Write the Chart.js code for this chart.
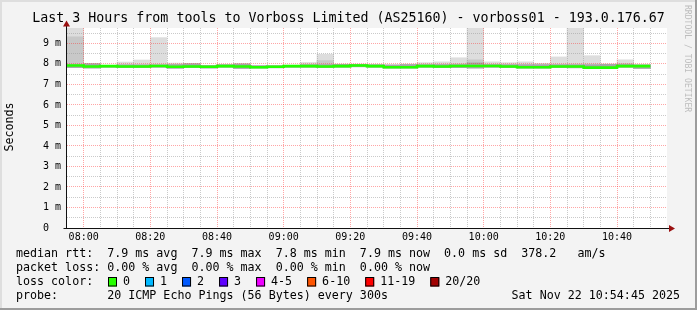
<!DOCTYPE html>
<html><head><meta charset="utf-8">
<script src="https://cdn.jsdelivr.net/npm/chart.js@4"></script>
<style>html,body{margin:0;padding:0;background:#f3f3f3;}canvas{display:block;}</style>
</head><body>
<canvas id="c" width="697" height="310"></canvas>
<script>
// ---- data ----
const titleText = 'Last 3 Hours from tools to Vorboss Limited (AS25160) - vorboss01 - 193.0.176.67';
const yAxisTitle = 'Seconds';
const watermark = 'RRDTOOL / TOBI OETIKER';
const axisStart = '07:55';
const axisEnd = '10:55';
// bar slot start times (5-minute steps)
const times = ['07:55','08:00','08:05','08:10','08:15','08:20','08:25','08:30','08:35','08:40','08:45','08:50',
               '08:55','09:00','09:05','09:10','09:15','09:20','09:25','09:30','09:35','09:40','09:45','09:50',
               '09:55','10:00','10:05','10:10','10:15','10:20','10:25','10:30','10:35','10:40','10:45','10:50'];
const xTickLabels = ['08:00','08:20','08:40','09:00','09:20','09:40','10:00','10:20','10:40'];
const yTickValues = [0,1,2,3,4,5,6,7,8,9];
const yTickLabels = ['0  ','1 m','2 m','3 m','4 m','5 m','6 m','7 m','8 m','9 m'];
// values in ms
const median   = [7.92,7.87,7.89,7.87,7.87,7.90,7.86,7.87,7.86,7.89,7.87,7.84,7.86,7.89,7.89,7.87,7.89,7.92,7.89,7.84,7.84,7.89,7.87,7.90,7.90,7.90,7.87,7.84,7.84,7.87,7.87,7.82,7.82,7.89,7.89];
const smokeMax = [10.2,8.02,7.93,8.09,8.19,9.28,8.04,8.01,7.93,7.98,8.00,7.92,7.92,7.94,8.07,8.47,7.99,7.99,7.96,7.95,7.99,8.06,8.10,8.30,10.2,8.10,8.06,8.10,8.03,8.34,10.2,8.40,8.00,8.20,7.97];
const smokeMid = [9.32,7.99,7.92,7.98,7.97,7.98,7.97,8.00,7.92,7.96,7.99,7.91,7.91,7.93,7.97,8.16,7.98,7.98,7.96,7.94,7.97,7.97,7.97,8.00,8.20,7.98,7.97,7.98,7.97,7.98,7.99,7.99,7.98,8.02,7.95];
const smokeCore= [7.96,8.01,7.92,7.95,7.95,7.95,7.97,8.01,7.92,7.96,8.00,7.91,7.91,7.92,7.96,7.97,7.98,7.98,7.96,7.95,7.97,7.96,7.97,7.97,8.05,7.97,7.96,7.96,7.96,7.96,7.96,7.96,7.98,7.98,7.95];
const smokeMin = [7.82,7.80,7.84,7.82,7.82,7.84,7.79,7.82,7.80,7.84,7.78,7.80,7.81,7.84,7.84,7.82,7.84,7.86,7.84,7.80,7.80,7.84,7.82,7.82,7.80,7.84,7.82,7.80,7.80,7.82,7.81,7.78,7.78,7.84,7.78];
const lossLabels = ['0','1','2','3','4-5','6-10','11-19','20/20'];
const lossColors = ['#26ff00','#00b8ff','#0059ff','#5e00ff','#ee00ff','#ff5500','#ff0000','#a10000'];
const legendRtt  = 'median rtt:  7.9 ms avg  7.9 ms max  7.8 ms min  7.9 ms now  0.0 ms sd  378.2   am/s';
const legendLoss = 'packet loss: 0.00 % avg  0.00 % max  0.00 % min  0.00 % now';
const legendColorLabel = 'loss color:';
const legendProbe = 'probe:       20 ICMP Echo Pings (56 Bytes) every 300s';
const legendDate = 'Sat Nov 22 10:54:45 2025';

// ---- helpers ----
const toMin = s => { const p = s.split(':').map(Number); return p[0]*60 + p[1]; };
const MONO = '"DejaVu Sans Mono", "Liberation Mono", monospace';

const medianPoints = median.map((v,i)=>({x: toMin(times[i]), y: v}));
medianPoints.push({x: toMin(times[median.length]), y: median[median.length-1]});

const rrdPlugin = {
  id: 'rrd',
  beforeDraw(chart) {
    const ctx = chart.ctx, W = chart.width, H = chart.height;
    ctx.save();
    ctx.fillStyle = '#f3f3f3';
    ctx.fillRect(0,0,W,H);
    ctx.fillStyle = '#dedede';
    ctx.fillRect(0,0,W,2); ctx.fillRect(0,0,2,H);
    ctx.fillStyle = '#9c9c9c';
    ctx.fillRect(0,H-2,W,2); ctx.fillRect(W-2,0,2,H);
    ctx.restore();
  },
  beforeDatasetsDraw(chart) {
    const a = chart.chartArea, ctx = chart.ctx;
    ctx.save();
    ctx.fillStyle = '#ffffff';
    ctx.fillRect(a.left, a.top, a.right-a.left, a.bottom-a.top);
    ctx.restore();
  },
  beforeDatasetDraw(chart, args) {
    if (args.meta.type !== 'line') return;
    const a = chart.chartArea, ctx = chart.ctx;
    const xs = chart.scales.x, ys = chart.scales.y;
    const majorX = xTickLabels.map(toMin);
    ctx.save();
    ctx.lineWidth = 1;
    ctx.setLineDash([1,1]);
    ctx.strokeStyle = 'rgba(150,150,150,0.5)';
    ctx.beginPath();
    times.slice(1).forEach(t => {
      const m = toMin(t);
      if (majorX.includes(m)) return;
      const px = Math.floor(xs.getPixelForValue(m)) + 0.5;
      ctx.moveTo(px, a.top); ctx.lineTo(px, a.bottom);
    });
    yTickValues.forEach(v => {
      const py = Math.floor(ys.getPixelForValue(v + 0.5)) + 0.5;
      if (py < a.top) return;
      ctx.moveTo(a.left, py); ctx.lineTo(a.right, py);
    });
    ctx.stroke();
    ctx.strokeStyle = 'rgba(255,40,40,0.42)';
    ctx.beginPath();
    majorX.forEach(m => {
      const px = Math.floor(xs.getPixelForValue(m)) + 0.5;
      ctx.moveTo(px, a.top); ctx.lineTo(px, a.bottom);
    });
    yTickValues.forEach(v => {
      if (v === 0) return;
      const py = Math.floor(ys.getPixelForValue(v)) + 0.5;
      ctx.moveTo(a.left, py); ctx.lineTo(a.right, py);
    });
    ctx.stroke();
    ctx.restore();
  },
  afterDatasetsDraw(chart) {
    const a = chart.chartArea, ctx = chart.ctx;
    ctx.save();
    ctx.strokeStyle = '#111';
    ctx.lineWidth = 1;
    ctx.beginPath();
    const ax = Math.floor(a.left) - 0.5;
    const ay = Math.floor(a.bottom) + 0.5;
    ctx.moveTo(ax, ay); ctx.lineTo(ax, a.top - 5);
    ctx.moveTo(ax - 3, ay); ctx.lineTo(a.right + 4, ay);
    ctx.stroke();
    ctx.fillStyle = '#9a1010';
    ctx.beginPath();
    ctx.moveTo(ax - 3.5, a.top - 1.5); ctx.lineTo(ax + 3.5, a.top - 1.5); ctx.lineTo(ax, a.top - 7.5);
    ctx.closePath(); ctx.fill();
    ctx.beginPath();
    ctx.moveTo(a.right + 2, ay - 3.5); ctx.lineTo(a.right + 2, ay + 3.5); ctx.lineTo(a.right + 8, ay);
    ctx.closePath(); ctx.fill();
    ctx.restore();
  },
  afterDraw(chart) {
    const ctx = chart.ctx, W = chart.width;
    const a = chart.chartArea;
    ctx.save();
    ctx.fillStyle = '#000';
    ctx.textBaseline = 'middle';
    ctx.font = '13.3px ' + MONO;
    ctx.textAlign = 'center';
    ctx.fillText(titleText, W/2, 19);
    ctx.font = '11.66px ' + MONO;
    ctx.save();
    ctx.translate(10, (a.top + a.bottom)/2 - 1);
    ctx.rotate(-Math.PI/2);
    ctx.fillText(yAxisTitle, 0, 0);
    ctx.restore();
    ctx.save();
    ctx.fillStyle = '#bdbdbd';
    ctx.font = '8.1px ' + MONO;
    ctx.textAlign = 'left';
    ctx.translate(687, 5);
    ctx.rotate(Math.PI/2);
    ctx.fillText(watermark, 0, 0);
    ctx.restore();
    ctx.font = '11.66px ' + MONO;
    ctx.textAlign = 'left';
    ctx.fillText(legendRtt, 16, 254);
    ctx.fillText(legendLoss, 16, 268);
    ctx.fillText(legendColorLabel, 16, 282);
    ctx.fillText(legendProbe, 16, 296);
    ctx.textAlign = 'right';
    ctx.fillText(legendDate, 680, 296);
    ctx.textAlign = 'left';
    let x = 108;
    lossLabels.forEach((lab, i) => {
      ctx.fillStyle = lossColors[i];
      ctx.fillRect(x, 277.5, 9, 9);
      ctx.strokeStyle = '#000';
      ctx.lineWidth = 1;
      ctx.strokeRect(x + 0.5, 277.5, 8, 8.5);
      ctx.fillStyle = '#000';
      ctx.fillText(lab, x + 15, 282);
      x = x + 15 + ctx.measureText(lab).width + 15;
    });
    ctx.restore();
  }
};

const barCommon = { type: 'bar', xAxisID: 'xc', yAxisID: 'y', grouped: false, barPercentage: 1, categoryPercentage: 1, borderWidth: 0 };

new Chart(document.getElementById('c'), {
  data: {
    labels: times,
    datasets: [
      { type: 'line', label: 'median', xAxisID: 'x', yAxisID: 'y', data: medianPoints,
        borderColor: '#22ff00', borderWidth: 2.6, pointRadius: 0, stepped: 'before', fill: false, order: 0 },
      Object.assign({ label: 'core', data: smokeMin.map((v,i)=>[v, smokeCore[i]]), backgroundColor: '#a6a6a6', order: 1 }, barCommon),
      Object.assign({ label: 'mid',  data: smokeMin.map((v,i)=>[v, smokeMid[i]]),  backgroundColor: '#c8c8c8', order: 2 }, barCommon),
      Object.assign({ label: 'outer',data: smokeMin.map((v,i)=>[v, smokeMax[i]]),  backgroundColor: '#dddddd', order: 3 }, barCommon)
    ]
  },
  options: {
    responsive: false,
    animation: false,
    devicePixelRatio: 1,
    layout: { padding: { left: 0, right: 30, top: 28, bottom: 64 } },
    plugins: { legend: { display: false }, tooltip: { enabled: false }, title: { display: false } },
    scales: {
      xc: { type: 'category', display: false, offset: true, grid: { display: false } },
      x: {
        type: 'linear', position: 'bottom', min: toMin(axisStart), max: toMin(axisEnd),
        grid: { display: false, drawTicks: false }, border: { display: false },
        afterBuildTicks: s => { s.ticks = xTickLabels.map(l => ({ value: toMin(l) })); },
        afterFit: s => { s.height = 18; },
        ticks: { autoSkip: false, maxRotation: 0, minRotation: 0, padding: 3, color: '#000',
          font: { family: MONO, size: 10 },
          callback: v => { const l = xTickLabels.find(t => toMin(t) === v); return l === undefined ? '' : l; } }
      },
      y: {
        min: 0, max: 9.75,
        grid: { display: false, drawTicks: false }, border: { display: false },
        afterBuildTicks: s => { s.ticks = yTickValues.map(v => ({ value: v })); },
        afterFit: s => { s.width = 67; },
        ticks: { padding: 6, color: '#000', font: { family: MONO, size: 10 },
          callback: v => { const i = yTickValues.indexOf(v); return i < 0 ? '' : yTickLabels[i]; } }
      }
    }
  },
  plugins: [rrdPlugin]
});
</script>
</body></html>
